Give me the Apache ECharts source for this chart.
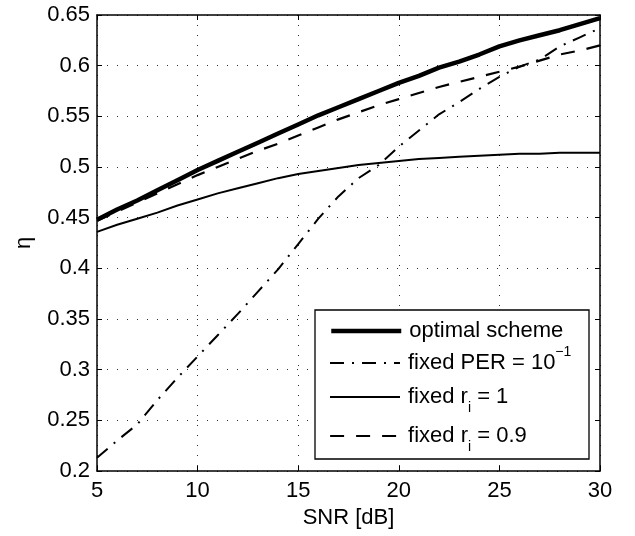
<!DOCTYPE html>
<html>
<head>
<meta charset="utf-8">
<script src="https://cdn.jsdelivr.net/npm/echarts@6/dist/echarts.min.js"></script>
<style>
html,body{margin:0;padding:0;background:#fff;}
#chart{width:635px;height:536px;}
</style>
</head>
<body>
<div id="chart"></div>
<script>
// ---- data ----
var snr = [5,6,7,8,9,10,11,12,13,14,15,16,17,18,19,20,21,22,23,24,25,26,27,28,29,30];
var optimalScheme = [0.448,0.458,0.467,0.477,0.487,0.497,0.506,0.515,0.524,0.533,0.542,0.551,0.559,0.567,0.575,0.583,0.590,0.598,0.604,0.611,0.619,0.625,0.630,0.635,0.641,0.647];
var fixedPER = [0.213,0.230,0.246,0.270,0.292,0.313,0.334,0.355,0.377,0.399,0.424,0.449,0.471,0.489,0.502,0.520,0.536,0.552,0.564,0.577,0.589,0.599,0.606,0.619,0.628,0.637];
var fixedR1 = [0.436,0.443,0.449,0.455,0.462,0.468,0.474,0.479,0.484,0.489,0.493,0.496,0.499,0.502,0.504,0.506,0.508,0.509,0.510,0.511,0.512,0.513,0.513,0.514,0.514,0.514];
var fixedR09 = [0.447,0.456,0.465,0.474,0.483,0.492,0.500,0.508,0.516,0.523,0.531,0.539,0.547,0.554,0.561,0.567,0.573,0.579,0.584,0.589,0.594,0.599,0.605,0.611,0.615,0.620];
var seriesNames = ['optimal scheme','fixed PER = 10^-1','fixed r_i = 1','fixed r_i = 0.9'];
var xTicks = {min:5, max:30, interval:5};
var yTicks = {min:0.2, max:0.65, interval:0.05};

function pairs(ys){ return snr.map(function(x,i){ return [x, ys[i]]; }); }

var FONT = '"Liberation Sans", Arial, Helvetica, sans-serif';
var chart = echarts.init(document.getElementById('chart'), null, {renderer:'canvas'});

var gridDot = {show:true, lineStyle:{color:'#333', width:1, type:[1,9]}};
var axisLineStyle = {show:true, onZero:false, lineStyle:{color:'#000', width:1.5}};
var tick = {show:true, inside:true, length:5, lineStyle:{color:'#000', width:1}};

var styles = [
  {width:4.5, type:'solid'},
  {width:2, type:[14,8,2,8]},
  {width:2, type:'solid'},
  {width:2.2, type:[14,12]}
];

function mkLegend(idx, top, fmt){
  return {
    orient:'vertical', left:329, top:top, padding:0, itemWidth:70, itemHeight:14,
    selectedMode:false, z:10,
    data:[seriesNames[idx]], formatter:fmt,
    itemStyle:{opacity:0, borderWidth:0},
    lineStyle:{color:'#000', width:styles[idx].width, type:styles[idx].type, opacity:1},
    textStyle:{fontFamily:FONT, fontSize:22, color:'#000', padding:[0,0,0,3],
      rich:{
        t:{fontFamily:FONT, fontSize:22, color:'#000'},
        sup:{fontFamily:FONT, fontSize:14, color:'#000', verticalAlign:'top', lineHeight:36},
        sub:{fontFamily:FONT, fontSize:14, color:'#000', verticalAlign:'bottom', lineHeight:36}
      }}
  };
}

var option = {
  animation:false,
  backgroundColor:'#fff',
  grid:{left:97, top:15, right:35, bottom:65, containLabel:false},
  xAxis:[{
    type:'value', min:xTicks.min, max:xTicks.max, interval:xTicks.interval,
    name:'SNR [dB]', nameLocation:'middle', nameGap:30,
    nameTextStyle:{fontFamily:FONT, fontSize:22, color:'#000'},
    axisLine:axisLineStyle, axisTick:tick,
    axisLabel:{fontFamily:FONT, fontSize:22, color:'#000', margin:9},
    splitLine:gridDot
  },{
    type:'value', position:'top', min:xTicks.min, max:xTicks.max, interval:xTicks.interval,
    axisLine:axisLineStyle, axisTick:tick, axisLabel:{show:false}, splitLine:{show:false}
  }],
  yAxis:[{
    type:'value', min:yTicks.min, max:yTicks.max, interval:yTicks.interval,
    name:'\u03b7', nameLocation:'middle', nameGap:62, nameRotate:90,
    nameTextStyle:{fontFamily:FONT, fontSize:22, color:'#000'},
    axisLine:axisLineStyle, axisTick:tick,
    axisLabel:{fontFamily:FONT, fontSize:22, color:'#000', margin:7},
    splitLine:gridDot
  },{
    type:'value', position:'right', min:yTicks.min, max:yTicks.max, interval:yTicks.interval,
    axisLine:axisLineStyle, axisTick:tick, axisLabel:{show:false}, splitLine:{show:false}
  }],
  legend:[
    mkLegend(0, 320, function(){ return '{t|optimal scheme}'; }),
    mkLegend(1, 345, function(){ return '{t|fixed PER = 10}{sup|\u22121}'; }),
    mkLegend(2, 386, function(){ return '{t|fixed r}{sub|i}{t| = 1}'; }),
    mkLegend(3, 425, function(){ return '{t|fixed r}{sub|i}{t| = 0.9}'; })
  ],
  graphic:[{
    type:'rect', z:5, shape:{x:315, y:310, width:274, height:149},
    style:{fill:'#fff', stroke:'#000', lineWidth:1.3}
  }],
  series:[
    {name:seriesNames[0], type:'line', data:pairs(optimalScheme), symbol:'none', z:4,
     lineStyle:{color:'#000', width:styles[0].width, type:styles[0].type}, itemStyle:{color:'#000'}},
    {name:seriesNames[1], type:'line', data:pairs(fixedPER), symbol:'none', z:3,
     lineStyle:{color:'#000', width:styles[1].width, type:styles[1].type}, itemStyle:{color:'#000'}},
    {name:seriesNames[2], type:'line', data:pairs(fixedR1), symbol:'none', z:3,
     lineStyle:{color:'#000', width:styles[2].width, type:styles[2].type}, itemStyle:{color:'#000'}},
    {name:seriesNames[3], type:'line', data:pairs(fixedR09), symbol:'none', z:3,
     lineStyle:{color:'#000', width:styles[3].width, type:styles[3].type}, itemStyle:{color:'#000'}}
  ]
};
chart.setOption(option);
</script>
</body>
</html>
